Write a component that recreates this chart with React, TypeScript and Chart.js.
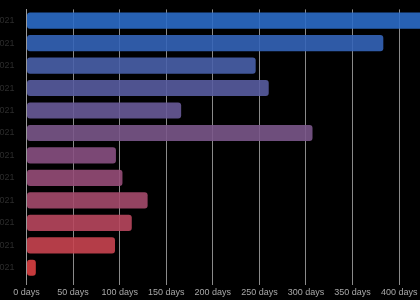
import React, { useEffect, useRef } from "react";
import { Chart, registerables } from "chart.js";

Chart.register(...registerables);

const months = [
  "Jan 2021", "Feb 2021", "Mar 2021", "Apr 2021", "May 2021", "Jun 2021",
  "Jul 2021", "Aug 2021", "Sep 2021", "Oct 2021", "Nov 2021", "Dec 2021",
];
const durationDays = [440, 383, 246, 260, 166, 307, 96, 103, 130, 113, 95, 10];
const barColors = [
  "rgba(43,108,198,0.9)",
  "rgba(52,100,184,0.9)",
  "rgba(73,96,170,0.9)",
  "rgba(88,92,160,0.9)",
  "rgba(104,90,152,0.9)",
  "rgba(122,86,138,0.9)",
  "rgba(136,80,130,0.9)",
  "rgba(150,76,120,0.9)",
  "rgba(164,74,108,0.9)",
  "rgba(184,71,94,0.9)",
  "rgba(200,68,80,0.9)",
  "rgba(218,64,66,0.9)",
];
const tickSuffix = " days";

export default function App() {
  const canvasRef = useRef<HTMLCanvasElement | null>(null);

  useEffect(() => {
    const canvas = canvasRef.current;
    if (!canvas) return;
    const chart = new Chart(canvas, {
      type: "bar",
      data: {
        labels: months,
        datasets: [
          {
            data: durationDays,
            backgroundColor: barColors,
            borderRadius: 3,
            borderSkipped: false,
          },
        ],
      },
      options: {
        indexAxis: "y",
        animation: false,
        responsive: false,
        devicePixelRatio: 1,
        layout: { padding: { top: 5.5, right: 0, left: 0, bottom: 0 } },
        plugins: { legend: { display: false }, tooltip: { enabled: false } },
        scales: {
          x: {
            min: 0,
            max: 450,
            ticks: {
              stepSize: 50,
              color: "#a8a8a8",
              font: { family: "'Liberation Sans', Arial, sans-serif", size: 9 },
              padding: 2,
              callback: (v: any) => v + tickSuffix,
            },
            grid: { color: "#8a8a8a", lineWidth: 1, tickLength: 6 },
            border: { display: false },
            afterFit: (scale: any) => {
              scale.height = 21;
            },
          },
          y: {
            ticks: {
              color: "#2c2c2c",
              font: { family: "'Liberation Sans', Arial, sans-serif", size: 9 },
              padding: 4,
            },
            grid: { display: false },
            border: { display: true, color: "#9a9a9a", width: 1 },
            afterFit: (scale: any) => {
              scale.width = 60.5;
            },
          },
        },
      },
    });
    return () => chart.destroy();
  }, []);

  return (
    <div
      style={{
        position: "fixed",
        left: 0,
        top: 0,
        width: 420,
        height: 300,
        overflow: "hidden",
        background: "#000",
      }}
    >
      <canvas
        ref={canvasRef}
        width={500}
        height={300}
        style={{ position: "absolute", left: -34, top: 0 }}
      />
    </div>
  );
}
